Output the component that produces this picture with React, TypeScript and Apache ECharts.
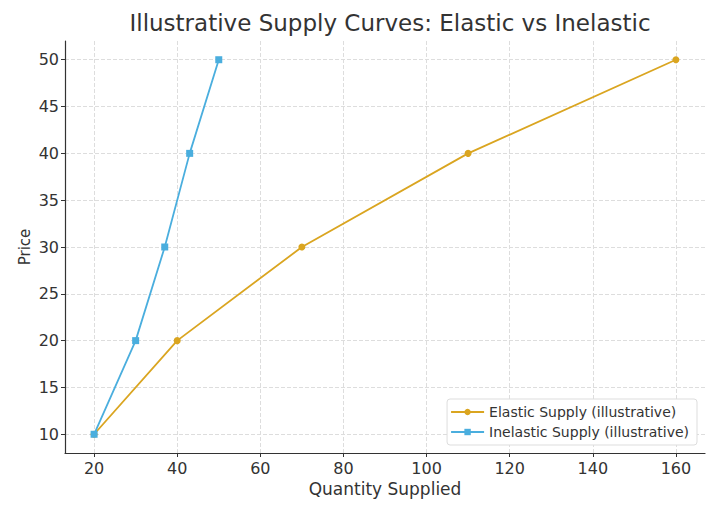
import { useEffect, useRef } from 'react'
import * as echarts from 'echarts'

const elasticQty = [20, 40, 70, 110, 160]
const elasticPrice = [10, 20, 30, 40, 50]
const inelasticQty = [20, 30, 37, 43, 50]
const inelasticPrice = [10, 20, 30, 40, 50]
const xTicks = [20, 40, 60, 80, 100, 120, 140, 160]
const yTicks = [10, 15, 20, 25, 30, 35, 40, 45, 50]

const FONT = 'DejaVu Sans'

const App: React.FC = () => {
  const chartRef = useRef<HTMLDivElement | null>(null)

  useEffect(() => {
    if (chartRef.current === null) return
    const chart = echarts.init(chartRef.current, null, { renderer: 'svg' })
    const option = {
      animation: false,
      textStyle: { fontFamily: FONT },
      title: {
        text: 'Illustrative Supply Curves: Elastic vs Inelastic',
        left: 385,
        textAlign: 'center',
        top: 6,
        textStyle: { fontFamily: FONT, fontSize: 23, fontWeight: 'normal', color: '#333' }
      },
      grid: { left: 65, right: 15, top: 41, bottom: 60 },
      legend: {
        orient: 'vertical',
        right: 23,
        bottom: 68,
        itemWidth: 33,
        itemHeight: 8,
        itemGap: 6,
        padding: [6, 8, 6, 3],
        borderColor: '#ddd',
        borderWidth: 1,
        borderRadius: 3,
        backgroundColor: '#fff',
        textStyle: { fontFamily: FONT, fontSize: 14, color: '#333' },
        data: ['Elastic Supply (illustrative)', 'Inelastic Supply (illustrative)']
      },
      xAxis: {
        type: 'value',
        min: 13,
        max: 167,
        name: 'Quantity Supplied',
        nameLocation: 'middle',
        nameGap: 27,
        nameMoveOverlap: false,
        nameTextStyle: { fontFamily: FONT, fontSize: 17, color: '#333' },
        axisLine: { lineStyle: { color: '#333', width: 1.2 } },
        axisTick: { show: true, customValues: xTicks, length: 4, lineStyle: { color: '#333' } },
        axisLabel: { customValues: xTicks, fontFamily: FONT, fontSize: 16, color: '#333', margin: 7 },
        splitLine: { show: true, lineStyle: { color: '#ddd', type: 'dashed' } }
      },
      yAxis: {
        type: 'value',
        min: 8,
        max: 52,
        name: 'Price',
        nameLocation: 'middle',
        nameGap: 33,
        nameMoveOverlap: false,
        nameTextStyle: { fontFamily: FONT, fontSize: 15, color: '#333' },
        axisLine: { show: true, lineStyle: { color: '#333', width: 1.2 } },
        axisTick: { show: true, customValues: yTicks, length: 4, lineStyle: { color: '#333' } },
        axisLabel: { customValues: yTicks, fontFamily: FONT, fontSize: 16, color: '#333', margin: 6 },
        splitLine: { show: true, lineStyle: { color: '#ddd', type: 'dashed' } }
      },
      series: [
        {
          name: 'Elastic Supply (illustrative)',
          type: 'line',
          data: elasticQty.map((q, i) => [q, elasticPrice[i]]),
          symbol: 'circle',
          symbolSize: 7,
          itemStyle: { color: '#DAA520' },
          lineStyle: { color: '#DAA520', width: 1.8 }
        },
        {
          name: 'Inelastic Supply (illustrative)',
          type: 'line',
          data: inelasticQty.map((q, i) => [q, inelasticPrice[i]]),
          symbol: 'rect',
          symbolSize: 7,
          itemStyle: { color: '#4AAEDE' },
          lineStyle: { color: '#4AAEDE', width: 1.8 }
        }
      ]
    }
    chart.setOption(option)
    return () => {
      chart.dispose()
    }
  }, [])

  return <div ref={chartRef} style={{ width: 720, height: 513, margin: -8 }}></div>
}

export default App
